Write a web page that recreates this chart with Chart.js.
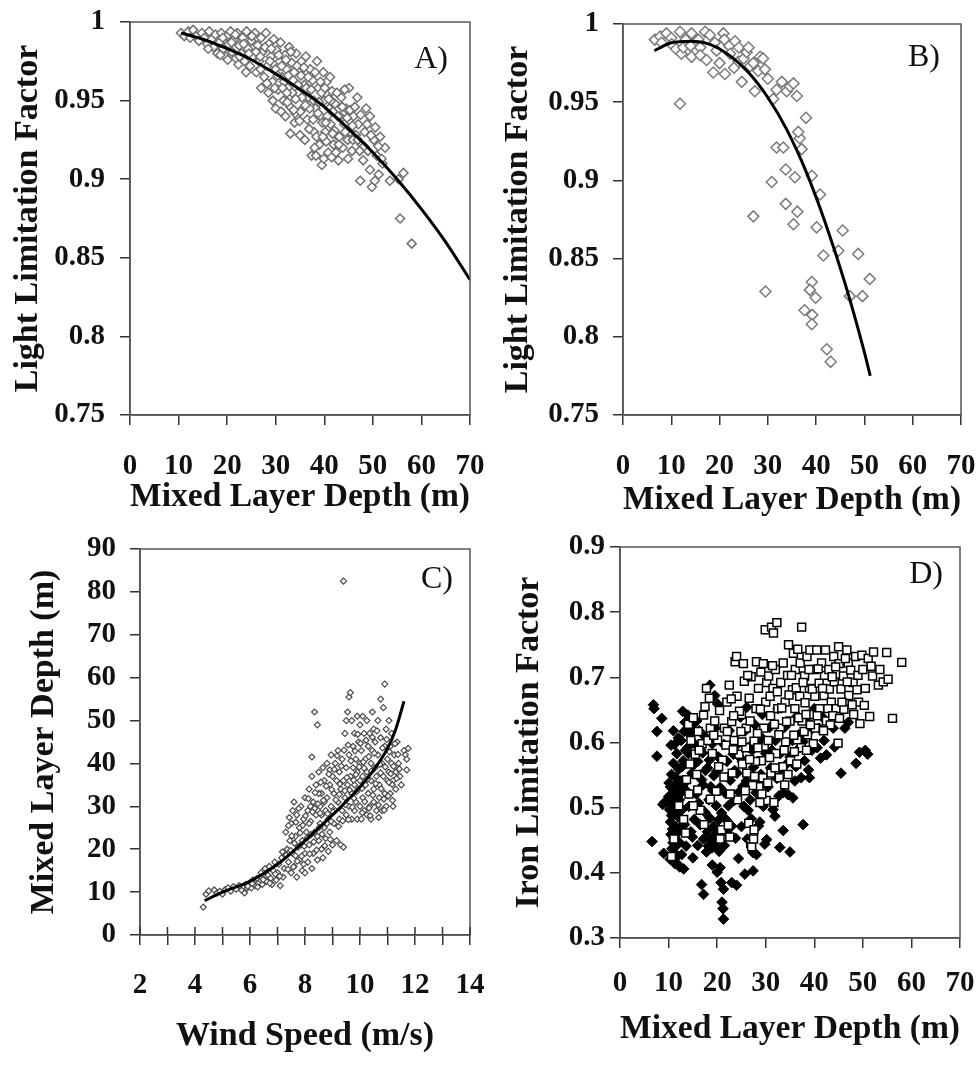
<!DOCTYPE html>
<html>
<head>
<meta charset="utf-8">
<script src="https://cdn.jsdelivr.net/npm/chart.js@4.4.0/dist/chart.umd.min.js"></script>
<style>
  body { margin: 0; background: #fff; }
  #wrap { position: relative; width: 977px; height: 1066px; }
  canvas { position: absolute; }
</style>
</head>
<body>
<div id="wrap">
  <canvas id="chartA" width="490" height="530" style="left:0px;top:0px"></canvas>
  <canvas id="chartB" width="487" height="530" style="left:490px;top:0px"></canvas>
  <canvas id="chartC" width="490" height="536" style="left:0px;top:530px"></canvas>
  <canvas id="chartD" width="487" height="536" style="left:490px;top:530px"></canvas>
</div>
<script>
// ---- data ----
// axis ranges: [min, max, step]
var depthRange = [0, 70, 10];
var lightRange = [0.75, 1, 0.05];
var windRange = [2, 14, 1];
var mldRange = [0, 90, 10];
var ironRange = [0.3, 0.9, 0.1];

// A) light limitation vs mixed layer depth
var lightA = [
  [10.5,0.993],[11.2,0.991],[12,0.994],[12.4,0.990],[13,0.995],[13.6,0.991],[14.2,0.988],[14.8,0.993],[15.3,0.990],[15.9,0.986],
  [16.3,0.994],[16.8,0.989],[17.2,0.984],[17.6,0.992],[18,0.980],[18.4,0.987],[18.8,0.993],[19.2,0.983],[19.6,0.978],[20,0.991],[20.3,0.986],[20.7,0.994],
  [21,0.981],[21.4,0.989],[21.8,0.977],[22.1,0.993],[22.5,0.985],[22.9,0.980],[23.2,0.990],[23.6,0.975],[24,0.994],[24.3,0.983],[24.7,0.972],[25,0.988],[25.3,0.978],[25.7,0.993],[26,0.968],
  [26.3,0.985],[26.6,0.975],[27,0.990],[27.3,0.981],[27.6,0.965],[28,0.993],[28.3,0.972],[28.6,0.986],[29,0.978],[29.3,0.962],[29.6,0.989],[30,0.970],[30.2,0.982],[30.5,0.957],[30.8,0.975],
  [31,0.987],[31.3,0.965],[31.6,0.950],[31.9,0.979],[32.2,0.970],[32.5,0.958],[32.8,0.984],[33,0.946],[33.3,0.974],[33.6,0.963],[33.9,0.936],[34.2,0.980],[34.5,0.955],[34.8,0.968],[35,0.928],[35.3,0.975],[35.6,0.945],[35.9,0.960],
  [36.2,0.978],[36.5,0.938],[36.8,0.952],[37.1,0.970],[37.4,0.915],[37.6,0.963],[37.9,0.930],[38.2,0.945],[38.5,0.975],[38.8,0.958],[39,0.922],[39.3,0.940],[39.5,0.909],[39.8,0.968],[40,0.950],[40.2,0.930],[40.5,0.962],[40.8,0.917],[41,0.945],
  [41.3,0.935],[41.6,0.956],[41.9,0.922],[42.2,0.948],[42.5,0.928],[42.9,0.912],[43.2,0.940],[43.5,0.952],[43.8,0.920],[44.1,0.935],[44.5,0.945],[44.8,0.925],[45.1,0.958],[45.4,0.930],[45.7,0.918],[46,0.940],
  [46.5,0.928],[46.8,0.952],[47,0.935],[47.4,0.899],[47.7,0.922],[48,0.912],[48.3,0.930],[48.6,0.945],[49,0.918],[49.4,0.940],[49.4,0.906],[49.8,0.895],[50.2,0.925],[50.4,0.899],[50.8,0.915],[51.2,0.903],[51.5,0.927],[52,0.910],[52.5,0.920],
  [53.5,0.899],[55.3,0.900],[56.3,0.904],[55.6,0.875],[58,0.859],
  [26.8,0.978],[28.8,0.975],[30.4,0.966],[31.7,0.962],[32.6,0.966],[33.4,0.955],[34.6,0.960],[35.4,0.952],[36.3,0.958],[37,0.945],[37.8,0.950],[38.7,0.942],[39.4,0.955],[40.6,0.940],
  [41.4,0.950],[42.8,0.940],[44.3,0.930],[45.9,0.925],[47.3,0.918],[36,0.925],[38,0.920],[34,0.942],[33,0.929],[39.9,0.913],[41.5,0.914],[43,0.922],[32,0.940],[30,0.945],[28.5,0.955],[27,0.958],
  [19.1,0.990],[20.9,0.987],[21.7,0.992],[22.6,0.978],[23.4,0.986],[24.5,0.980],[25.1,0.991],[25.9,0.981],[26.9,0.970],[27.8,0.984],[28.2,0.961],[29.1,0.983],[29.8,0.958],[30.6,0.979],
  [31.2,0.972],[31.4,0.958],[32.1,0.976],[32.4,0.949],[33.1,0.981],[33.8,0.968],[34.1,0.951],[34.4,0.972],[34.9,0.937],[35.2,0.966],[35.8,0.971],[36.1,0.947],[36.7,0.965],[37.3,0.957],
  [37.7,0.938],[38.1,0.968],[38.4,0.927],[38.9,0.949],[39.2,0.962],[39.6,0.936],[40.1,0.958],[40.4,0.924],[40.9,0.951],[41.2,0.965],[41.8,0.943],[42.1,0.931],[42.6,0.955],[43.1,0.927],
  [43.7,0.946],[44.2,0.957],[44.7,0.939],[45.3,0.944],[45.8,0.934],[46.3,0.946],[46.9,0.925],[47.5,0.941],[48.2,0.921],[48.8,0.935],[49.6,0.928],[50.5,0.933],[51.1,0.921],[51.8,0.913],
  [36.9,0.932],[38.3,0.915],[35.1,0.943],[33.7,0.944],[32.3,0.955],[31.1,0.943],[29.4,0.950],[40.3,0.936],[42.4,0.917],[44.9,0.913],[39.7,0.927],[41.7,0.929],[23.9,0.968],[22.3,0.973],
  [20.1,0.976],[18.6,0.979],[16.1,0.983]
];
var fitA = [[10.5,0.993],[15,0.989],[20,0.983],[25,0.976],[30,0.967],[35,0.957],[40,0.946],[45,0.932],[50,0.917],[55,0.900],[60,0.881],[65,0.860],[70,0.836]];

// B) light limitation vs mixed layer depth
var lightB = [
  [6.6,0.990],[7.7,0.992],[8,0.988],[9,0.994],[10,0.991],[10.1,0.987],[11,0.984],[11.8,0.995],[12.1,0.981],[12.5,0.985],[13,0.990],[14,0.986],
  [14.2,0.994],[14.2,0.979],[15.6,0.990],[16,0.985],[16,0.980],[17,0.995],[17.3,0.977],[18,0.993],[18.7,0.969],[19,0.988],[19.4,0.983],[20,0.975],
  [20.8,0.994],[21,0.990],[21.1,0.968],[22,0.986],[22.2,0.981],[23,0.972],[23.2,0.989],[23.9,0.976],[24,0.985],[24.6,0.963],[25,0.978],[25.6,0.982],
  [26,0.985],[26.3,0.973],[27,0.975],[27.3,0.957],[28,0.970],[28.4,0.979],[29,0.978],[29.4,0.971],[30,0.965],[31.1,0.952],[31.8,0.958],[32.9,0.963],
  [33.9,0.957],[34.6,0.960],[35.3,0.962],[36,0.954],[11.8,0.949],
  [27,0.877],[29.5,0.829],[30.8,0.899],[31.8,0.921],[33.2,0.921],[33.7,0.907],[33.7,0.885],[35.3,0.872],[36.1,0.880],[35.6,0.902],[37,0.920],
  [36.6,0.927],[36.3,0.931],[37.9,0.940],[39.1,0.903],[40.8,0.891],[40.1,0.870],[39.1,0.835],[38.7,0.830],[39.9,0.825],[37.6,0.817],[39.2,0.814],
  [39.1,0.808],[42.2,0.792],[43,0.784],[41.5,0.852],[44.6,0.855],[45.5,0.868],[48.7,0.853],[51.1,0.837],[49.6,0.826],[47,0.826]
];
var fitB = [[6.5,0.983],[10,0.988],[14,0.989],[18,0.987],[22,0.980],[26,0.969],[30,0.953],[34,0.932],[38,0.905],[42,0.872],[46,0.834],[50,0.790],[51.2,0.775]];

// C) mixed layer depth vs wind speed
var mldC = [
  [4.3,6.5],[4.4,9.5],[4.5,10.3],[4.7,10.5],[4.8,9.8],[4.9,10.2],[5.0,9.5],[5.1,10.6],[5.2,11.0],[5.3,10.2],[5.4,11.3],[5.5,10.7],[5.6,11.5],[5.7,10.4],
  [5.8,9.8],[5.85,11.8],[5.9,10.9],[6.0,12.2],[6.05,11.0],[6.1,12.8],[6.2,11.5],[6.25,13.2],[6.3,12.0],[6.4,14.5],[6.45,11.8],[6.5,13.0],[6.55,15.5],
  [6.6,12.5],[6.65,14.0],[6.7,16.0],[6.75,13.2],[6.8,11.8],[6.85,15.0],[6.9,17.0],[6.95,12.8],[7.0,14.5],[7.05,16.5],[7.1,11.5],[7.15,18.0],[7.2,13.5],[7.25,15.5],
  [7.3,24],[7.35,20],[7.4,17],[7.45,22],[7.5,14.5],[7.5,26],[7.55,19],[7.6,31],[7.6,16],[7.65,23],[7.7,28],[7.7,13.5],[7.75,20.5],[7.8,25],[7.8,17.5],
  [7.85,30],[7.9,15],[7.9,22],[7.95,27],[8.0,19],[8.0,32],[8.0,14.5],[7.4,25.5],[7.55,29],[7.65,18.5],[7.85,21],[7.95,16.5],
  [8.05,24],[8.1,29],[8.1,17],[8.15,34],[8.15,21],[8.2,26.5],[8.25,41.5],[8.25,37],[8.25,15.5],[8.3,31],[8.3,19],[8.35,52],[8.35,24],[8.4,28],[8.4,35],
  [8.45,49],[8.45,17.5],[8.5,22],[8.5,38],[8.55,30],[8.55,26],[8.6,20],[8.6,33],[8.65,39],[8.65,18],[8.7,25],[8.7,36],[8.75,29],[8.75,22.5],[8.8,40],
  [8.8,32],[8.85,19.5],[8.85,27],[8.9,35],[8.9,24],[8.95,42],[8.95,30],[9.0,21],[9.0,37],[8.2,30],[8.35,29.5],[8.5,33],[8.6,28],[8.7,31],[8.8,26],[8.9,38.5],[8.15,26],[8.45,23],
  [9.05,33],[9.05,26],[9.1,40],[9.1,29],[9.15,22],[9.15,36],[9.2,43],[9.2,31],[9.25,27],[9.25,38],[9.3,21],[9.3,34],[9.35,41],[9.35,29],[9.4,82.5],
  [9.4,20.5],[9.4,36],[9.45,47],[9.45,32],[9.5,50],[9.5,39],[9.5,28],[9.55,52],[9.55,35],[9.6,55.5],[9.6,42],[9.6,30],[9.65,56.5],[9.65,37],[9.7,50],
  [9.7,33],[9.7,27],[9.75,44],[9.75,39],[9.8,47],[9.8,35],[9.8,29],[9.85,41],[9.85,31],[9.9,51],[9.9,38],[9.9,27],[9.95,45],[9.95,34],[10.0,49],[10.0,40],[10.0,30],[10.0,36],
  [10.05,43],[10.05,27],[10.1,51],[10.1,37],[10.1,32],[10.15,47],[10.15,29],[10.2,41],[10.2,35],[10.25,50],[10.25,38],[10.25,28],[10.3,44],[10.3,33],
  [10.35,47],[10.35,30],[10.4,40],[10.4,36],[10.4,27],[10.45,52],[10.45,43],[10.5,48],[10.5,34],[10.5,31],[10.55,39],[10.55,45],[10.6,37],[10.6,29],
  [10.65,50],[10.65,42],[10.7,35],[10.7,32],[10.75,55],[10.75,46],[10.8,40],[10.8,29],[10.85,53],[10.85,37],[10.9,58.5],[10.9,44],[10.9,33],[10.95,48],[10.95,30],[11.0,41],[11.0,36],
  [11.05,50],[11.05,38],[11.1,44],[11.1,33],[11.15,47],[11.15,40],[11.2,36],[11.2,30],[11.25,42],[11.3,38],[11.3,34],[11.35,45],[11.4,40],[11.45,37],
  [11.5,35],[11.6,43],[11.65,42],[11.7,41],[11.7,38.5],[11.75,43.5],
  [7.32,18.6],[7.38,15.3],[7.43,27.4],[7.48,19.7],[7.52,23.1],[7.58,15.9],[7.62,21.4],[7.67,26.3],[7.72,17.2],[7.77,29.5],[7.82,23.8],[7.88,18.4],
  [7.92,25.6],[7.97,20.7],[8.02,27.8],[8.07,22.6],[8.12,31.8],[8.17,18.9],[8.22,23.4],[8.27,28.7],[8.32,21.7],[8.37,33.2],[8.42,19.8],[8.47,30.6],
  [8.52,25.1],[8.57,35.6],[8.62,23.5],[8.67,31.4],[8.72,20.8],[8.77,34.7],[8.82,28.3],[8.87,37.5],[8.92,22.3],[8.97,33.9],[9.02,28.7],[9.07,38.6],
  [9.12,31.5],[9.17,41.8],[9.22,25.3],[9.27,35.2],[9.32,39.4],[9.37,26.6],[9.42,43.1],[9.47,30.4],[9.52,36.7],[9.57,44.3],[9.62,33.8],[9.67,40.6],
  [9.72,29.8],[9.77,36.1],[9.82,42.9],[9.87,33.4],[9.92,46.8],[9.97,39.2],[10.02,44.7],[10.07,34.2],[10.12,40.3],[10.17,31.1],[10.22,45.4],[10.27,36.3],
  [10.32,41.6],[10.37,27.8],[10.42,38.2],[10.47,32.6],[10.52,42.4],[10.57,35.3],[10.62,47.6],[10.67,30.3],[10.72,39.8],[10.77,34.1],[10.82,43.6],
  [10.87,31.7],[10.92,39.2],[10.97,45.6],[11.02,32.4],[11.07,42.7],[11.12,37.6],[11.17,35.1],[11.22,39.3],[11.27,44.6],[11.33,36.5],[11.38,42.1],
  [11.43,38.7],[9.45,33.6],[9.85,37.4],[10.15,38.9],[10.45,46.1],[10.75,37.8],[11.05,35.6],[8.55,28.4],[8.95,26.5],[9.25,32.8],[9.58,26.9],[9.78,31.9],
  [10.08,28.5],[10.33,29.6],[10.68,27.4],[10.88,29.1],[11.18,31.4],[7.18,19.4],[7.08,13.7],[6.92,14.2],[6.72,12.1],[6.48,12.9],[6.28,11.2],[6.08,12.0],[5.92,11.4]
];
var fitC = [[4.35,8],[5,10],[6,12.5],[7,16.5],[8,22],[9,28],[10,34.5],[10.5,38.5],[11,43.5],[11.3,48],[11.6,54.5]];

// D) iron limitation vs mixed layer depth: filled diamonds
var ironFilled = [
  [6.6,0.448],[6.9,0.658],[7.0,0.652],[7.6,0.617],[7.6,0.579],[8.6,0.637],[9.0,0.430],[9.3,0.509],[8.8,0.505],
  [10.1,0.538],[10.0,0.517],[10.2,0.497],[10.3,0.421],[10.4,0.478],[10.5,0.459],[10.6,0.551],[10.7,0.437],[10.8,0.529],[10.9,0.508],[11.0,0.489],
  [11.0,0.568],[11.1,0.452],[11.2,0.431],[11.2,0.597],[11.3,0.414],[11.4,0.523],[11.5,0.471],[11.5,0.546],[11.6,0.503],[11.7,0.583],[11.8,0.443],
  [11.9,0.532],[12.0,0.412],[12.0,0.486],[12.1,0.559],[12.2,0.512],[12.3,0.409],[12.4,0.466],[12.5,0.541],[12.6,0.603],[12.7,0.428],[12.8,0.497],
  [12.9,0.648],[13.0,0.572],[13.1,0.406],[13.2,0.617],[13.3,0.474],[13.4,0.528],[13.5,0.588],[13.6,0.441],[10.5,0.596],[11.0,0.618],[12.0,0.607],
  [11.3,0.535],[10.8,0.467],[12.2,0.447],[11.6,0.424],[10.3,0.505],[10.6,0.488],[10.9,0.446],[11.4,0.458],[11.8,0.492],[12.3,0.521],[12.6,0.482],
  [11.1,0.511],[10.4,0.532],[11.7,0.514],[12.8,0.563],[13.4,0.631],[13.0,0.535],
  [14.0,0.642],[14.1,0.583],[14.2,0.502],[14.5,0.611],[14.6,0.463],[14.8,0.553],[15.0,0.628],[15.0,0.423],[15.3,0.482],[15.5,0.597],[15.7,0.521],
  [16.0,0.571],[16.0,0.442],[16.3,0.618],[16.5,0.474],[16.8,0.382],[16.8,0.543],[17.0,0.584],[17.2,0.367],[17.2,0.452],[17.5,0.609],[17.5,0.493],
  [14.3,0.617],[15.2,0.566],[16.2,0.507],[14.9,0.455],[13.9,0.592],[15.8,0.633],[16.6,0.589],[17.1,0.535],
  [17.8,0.432],[18.0,0.463],[18.0,0.561],[18.2,0.441],[18.4,0.573],[18.5,0.484],[18.7,0.532],[18.8,0.452],[19.0,0.598],[19.0,0.412],[19.2,0.471],
  [19.3,0.549],[19.5,0.443],[19.6,0.622],[19.8,0.503],[20.0,0.401],[20.0,0.461],[20.2,0.578],[20.4,0.433],[20.6,0.408],[20.6,0.531],[20.8,0.385],
  [20.9,0.492],[21.0,0.355],[21.2,0.345],[21.3,0.329],[21.3,0.375],[21.4,0.597],[21.5,0.442],[21.7,0.522],[22.0,0.571],[22.0,0.463],[22.3,0.503],
  [22.5,0.618],[22.7,0.542],[23.0,0.385],[23.0,0.472],[23.3,0.582],[23.5,0.511],[23.8,0.453],[18.5,0.688],[19.5,0.672],[20.1,0.659],[18.3,0.512],
  [19.1,0.526],[19.9,0.556],[20.7,0.575],[21.8,0.482],[18.9,0.438],[19.7,0.457],[20.3,0.481],[17.6,0.557],[22.8,0.596],[23.6,0.557],
  [24.0,0.381],[24.4,0.422],[24.1,0.553],[24.3,0.598],[24.5,0.524],[24.8,0.639],[25.0,0.471],[25.2,0.571],[25.5,0.502],[25.7,0.398],[25.8,0.618],
  [26.0,0.541],[26.2,0.452],[26.5,0.593],[26.8,0.512],[27.0,0.483],[27.4,0.403],[27.4,0.431],[27.5,0.562],[27.8,0.627],[28.0,0.523],[28.1,0.428],
  [28.3,0.603],[28.5,0.472],[28.8,0.478],[29.0,0.551],[29.3,0.643],[29.5,0.502],[29.8,0.444],[30.0,0.583],[25.3,0.533],[26.4,0.496],[24.7,0.577],
  [27.2,0.588],[28.7,0.538],[26.1,0.654],[29.1,0.608],
  [30.5,0.532],[30.8,0.623],[31.0,0.561],[31.5,0.497],[31.9,0.487],[32.0,0.603],[32.3,0.545],[32.5,0.652],[32.9,0.439],[33.0,0.583],[33.5,0.552],
  [33.6,0.523],[33.6,0.465],[34.0,0.624],[34.6,0.520],[35.0,0.432],[35.0,0.578],[35.5,0.603],[36.0,0.541],[36.2,0.563],[36.5,0.641],[37.0,0.592],
  [37.3,0.546],[37.7,0.474],[37.7,0.601],[38.0,0.572],[38.5,0.633],[39.0,0.546],[39.0,0.617],[39.5,0.588],[40.0,0.652],[40.6,0.592],[41.0,0.622],
  [41.3,0.576],[42.0,0.603],[42.5,0.581],[43.9,0.622],[44.2,0.593],[45.5,0.553],[46.3,0.622],[47.0,0.631],[48.6,0.568],[49.3,0.585],[51.0,0.582],
  [50.5,0.588],[31.3,0.588],[34.3,0.567],[36.8,0.612],[38.8,0.558],[41.8,0.638],[30.2,0.451],[32.7,0.518],[35.6,0.515]
];
// D) open squares
var ironOpen = [
  [13.7,0.543],[14.1,0.628],[14.6,0.603],[15.1,0.638],[15.5,0.582],[16.1,0.617],[16.5,0.496],[16.9,0.598],[17.2,0.642],[17.5,0.655],[17.8,0.683],
  [18.4,0.668],[18.6,0.622],[19.0,0.583],[19.5,0.633],[19.8,0.525],[20.1,0.604],[20.5,0.649],[20.6,0.452],[20.9,0.466],[14.4,0.567],[15.8,0.551],
  [16.3,0.588],[18.1,0.603],[19.3,0.611],
  [21.1,0.573],[21.5,0.622],[22.0,0.662],[22.3,0.473],[22.5,0.688],[22.6,0.455],[23.0,0.632],[23.1,0.553],[23.5,0.603],[23.7,0.724],[24.0,0.732],
  [24.1,0.671],[24.5,0.582],[25.0,0.643],[25.4,0.721],[25.6,0.694],[26.0,0.622],[26.1,0.553],[26.5,0.476],[26.6,0.668],[26.9,0.445],[27.0,0.701],
  [27.1,0.440],[27.5,0.452],[27.6,0.602],[27.6,0.466],[28.0,0.652],[28.1,0.724],[28.5,0.683],[28.6,0.532],[29.0,0.708],[29.1,0.572],[29.5,0.721],
  [29.6,0.622],[29.9,0.773],[30.0,0.662],[30.1,0.511],[30.2,0.692],[21.8,0.596],[22.9,0.667],[24.6,0.648],[25.9,0.592],[26.8,0.633],[27.9,0.571],
  [28.9,0.651],[29.4,0.546],[24.9,0.617],[23.4,0.641],[26.3,0.703],[28.3,0.614],[29.7,0.594],[25.2,0.567],[27.3,0.534],[28.8,0.508],[22.1,0.617],
  [30.5,0.603],[30.6,0.702],[31.0,0.641],[31.1,0.553],[31.2,0.777],[31.6,0.768],[31.5,0.683],[32.0,0.712],[32.1,0.583],[32.3,0.784],[32.5,0.652],
  [33.0,0.622],[33.1,0.692],[33.5,0.563],[33.6,0.722],[34.0,0.662],[34.1,0.601],[34.5,0.703],[34.7,0.750],[35.0,0.633],[35.1,0.572],[35.5,0.681],
  [35.7,0.737],[36.0,0.652],[36.1,0.712],[36.5,0.604],[37.0,0.671],[37.1,0.722],[37.4,0.777],[37.5,0.633],[38.0,0.702],[38.1,0.661],[38.5,0.732],
  [38.6,0.612],[39.0,0.683],[39.1,0.742],[39.5,0.643],[40.0,0.712],[40.1,0.671],[40.2,0.622],[30.9,0.671],[31.8,0.628],[32.7,0.612],[33.3,0.653],
  [34.3,0.632],[34.8,0.673],[35.3,0.703],[36.3,0.684],[36.8,0.638],[37.7,0.692],[38.3,0.643],[38.9,0.712],[39.6,0.682],[39.8,0.598],[32.4,0.678],
  [33.8,0.588],[35.8,0.611],[37.3,0.592],[31.4,0.718],[36.6,0.743],
  [40.5,0.742],[41.0,0.691],[41.1,0.652],[41.5,0.722],[42.0,0.672],[42.1,0.703],[42.5,0.633],[43.0,0.712],[43.1,0.682],[43.5,0.662],[44.0,0.732],
  [44.1,0.693],[44.5,0.652],[44.9,0.599],[45.0,0.747],[45.1,0.721],[45.5,0.682],[46.0,0.702],[46.1,0.651],[46.7,0.742],[47.0,0.722],[47.1,0.672],
  [47.5,0.711],[48.0,0.692],[48.1,0.643],[48.5,0.732],[49.0,0.703],[49.1,0.662],[49.4,0.629],[49.8,0.734],[50.0,0.712],[50.5,0.683],[51.1,0.729],
  [51.4,0.640],[52.0,0.702],[52.2,0.739],[53.2,0.688],[54.2,0.693],[54.9,0.738],[55.2,0.697],[56.1,0.637],[58.0,0.723],[40.8,0.713],[41.7,0.683],
  [42.8,0.652],[43.7,0.701],[44.4,0.716],[45.7,0.662],[46.4,0.729],[47.8,0.658],[48.8,0.681],[50.3,0.657],[42.3,0.742],[43.3,0.627],[46.8,0.693],
  [51.7,0.717],[53.5,0.712],
  [10.6,0.425],[11.1,0.452],[12.1,0.503],[13.1,0.482],[14.2,0.521],[15.1,0.503],[18.6,0.513],[13.5,0.461],[17.3,0.474],[16.0,0.527],
  [24.2,0.512],[25.8,0.526],[27.7,0.548],[29.2,0.521],[30.4,0.538],[31.7,0.508],[32.8,0.546],[33.9,0.535],[30.8,0.577],[28.4,0.592],[26.7,0.574],
  [25.1,0.601],[23.3,0.589],[21.4,0.547],[20.3,0.563],[22.7,0.521],[31.9,0.561],[34.6,0.551],[35.9,0.586],[37.9,0.617],[39.2,0.627],[40.6,0.641],
  [41.9,0.618],[43.8,0.641],[45.2,0.637],[36.4,0.567],[38.4,0.588]
];

var serif = "'Liberation Serif', 'Times New Roman', serif";

function toXY(pairs) {
  return pairs.map(function (p) { return { x: p[0], y: p[1] }; });
}

// frame around plot + panel letter + optional inner x ticks
var panelPlugin = {
  id: 'panelDeco',
  afterDraw: function (chart, args, opts) {
    var ctx = chart.ctx;
    var a = chart.chartArea;
    ctx.save();
    ctx.strokeStyle = '#555';
    ctx.lineWidth = 1.5;
    ctx.strokeRect(a.left, a.top, a.right - a.left, a.bottom - a.top);
    if (opts.innerTicks) {
      var xs = chart.scales.x;
      ctx.strokeStyle = '#333';
      xs.ticks.forEach(function (t) {
        var px = xs.getPixelForValue(t.value);
        ctx.beginPath();
        ctx.moveTo(px, a.bottom);
        ctx.lineTo(px, a.bottom - 8);
        ctx.stroke();
      });
    }
    ctx.fillStyle = '#111';
    ctx.font = '32px ' + serif;
    ctx.textAlign = 'right';
    ctx.textBaseline = 'middle';
    ctx.fillText(opts.label, a.right - opts.lx, a.top + opts.ly);
    ctx.restore();
  }
};

function makePanel(id, cfg) {
  var tickFont = { family: serif, size: 29, weight: 'bold' };
  var titleFont = { family: serif, size: 34, weight: 'bold' };
  return new Chart(document.getElementById(id), {
    type: 'scatter',
    data: { datasets: cfg.datasets },
    options: {
      responsive: false,
      animation: false,
      devicePixelRatio: 1,
      layout: { padding: { top: cfg.top, right: cfg.right, left: 0, bottom: 0 } },
      plugins: {
        legend: { display: false },
        tooltip: { enabled: false },
        panelDeco: { label: cfg.label, innerTicks: !!cfg.innerTicks, lx: cfg.labelPos[0], ly: cfg.labelPos[1] }
      },
      scales: {
        x: {
          type: 'linear',
          position: 'bottom',
          min: cfg.xRange[0], max: cfg.xRange[1],
          afterFit: function (s) { s.height = cfg.xHeight; s.paddingLeft = 0; s.paddingRight = 0; },
          ticks: {
            stepSize: cfg.xRange[2], autoSkip: false, maxRotation: 0,
            color: '#111', font: tickFont, padding: cfg.xPad,
            callback: cfg.xLabel || function (v) { return String(v); }
          },
          grid: { drawOnChartArea: false, drawTicks: true, tickLength: 10, color: '#333', lineWidth: 1.5 },
          border: { color: '#444', width: 1.5 },
          title: { display: true, text: cfg.xTitle, color: '#111', font: titleFont, padding: { top: 0, bottom: cfg.xTitlePad } }
        },
        y: {
          type: 'linear',
          position: 'left',
          min: cfg.yRange[0], max: cfg.yRange[1],
          afterFit: function (s) { s.width = cfg.yWidth; s.paddingTop = 0; s.paddingBottom = 0; },
          ticks: {
            stepSize: cfg.yRange[2], autoSkip: false,
            color: '#111', font: tickFont, padding: cfg.yPad,
            callback: function (v) { return String(Number(v.toFixed(2))); }
          },
          grid: { drawOnChartArea: false, drawTicks: true, tickLength: 10, color: '#333', lineWidth: 1.5 },
          border: { color: '#444', width: 1.5 },
          title: { display: true, text: cfg.yTitle, color: '#111', font: titleFont, padding: { top: cfg.yTitlePad, bottom: 0 } }
        }
      }
    },
    plugins: [panelPlugin]
  });
}

function fitLine(pairs) {
  return {
    type: 'line', data: toXY(pairs), showLine: true, order: 0,
    borderColor: '#000', borderWidth: 3, pointRadius: 0,
    cubicInterpolationMode: 'monotone', fill: false
  };
}

function diamonds(pairs, r, stroke, w) {
  return {
    data: toXY(pairs), order: 1, pointStyle: 'rectRot', pointRadius: r,
    backgroundColor: '#fff', borderColor: stroke, borderWidth: w
  };
}

makePanel('chartA', {
  label: 'A)', labelPos: [22, 38], top: 22, right: 20, yWidth: 130, xHeight: 115,
  xRange: depthRange, yRange: lightRange, xPad: 24, yPad: 15, xTitlePad: 12, yTitlePad: 8,
  xTitle: 'Mixed Layer Depth (m)', yTitle: 'Light Limitation Factor',
  datasets: [fitLine(fitA), diamonds(lightA, 4.5, '#707070', 1.5)]
});

makePanel('chartB', {
  label: 'B)', labelPos: [21, 34], top: 24, right: 16, yWidth: 133, xHeight: 115,
  xRange: depthRange, yRange: lightRange, xPad: 24, yPad: 14, xTitlePad: 9, yTitlePad: 8,
  xTitle: 'Mixed Layer Depth (m)', yTitle: 'Light Limitation Factor',
  datasets: [fitLine(fitB), diamonds(lightB, 5.5, '#7a7a7a', 1.5)]
});

makePanel('chartC', {
  label: 'C)', labelPos: [17, 31], top: 19, right: 20, yWidth: 140, xHeight: 131, innerTicks: true,
  xRange: windRange, yRange: mldRange, xPad: 23, yPad: 14, xTitlePad: 9, yTitlePad: 24,
  xLabel: function (v) { return v % 2 === 0 ? String(v) : ''; },
  xTitle: 'Wind Speed (m/s)', yTitle: 'Mixed Layer Depth (m)',
  datasets: [fitLine(fitC), diamonds(mldC, 3, '#4a4a4a', 1.2)]
});

makePanel('chartD', {
  label: 'D)', labelPos: [17, 28], top: 17, right: 17, yWidth: 130, xHeight: 128,
  xRange: depthRange, yRange: ironRange, xPad: 18, yPad: 5, xTitlePad: 16, yTitlePad: 19,
  xTitle: 'Mixed Layer Depth (m)', yTitle: 'Iron Limitation Factor',
  datasets: [
    { data: toXY(ironOpen), order: 0, pointStyle: 'rect', pointRadius: 5.6,
      backgroundColor: '#fff', borderColor: '#000', borderWidth: 1.5 },
    { data: toXY(ironFilled), order: 1, pointStyle: 'rectRot', pointRadius: 5.3,
      backgroundColor: '#000', borderColor: '#000', borderWidth: 1 }
  ]
});
</script>
</body>
</html>
